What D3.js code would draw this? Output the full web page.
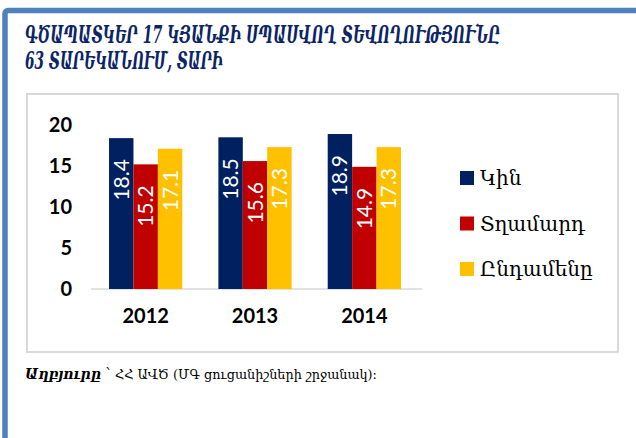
<!DOCTYPE html>
<html><head><meta charset="utf-8">
<script src="https://cdn.jsdelivr.net/npm/d3@7"></script>
<style>html,body{margin:0;padding:0;background:#fff;}</style>
</head><body>
<svg id="c" width="636" height="438"></svg>
<script>
const years = ["2012", "2013", "2014"];
const seriesNames = ["Կին", "Տղամարդ", "Ընդամենը"];
const women = [18.4, 18.5, 18.9];
const men = [15.2, 15.6, 14.9];
const total = [17.1, 17.3, 17.3];
const yTicks = [0, 5, 10, 15, 20];
const colors = ["#002060", "#c00000", "#ffc000"];
const titleLines = ["ԳԾԱՊԱՏԿԵՐ  17  ԿՅԱՆՔԻ ՍՊԱՍՎՈՂ ՏԵՎՈՂՈՒԹՅՈՒՆԸ", "63 ՏԱՐԵԿԱՆՈՒՄ, ՏԱՐԻ"];

const svg = d3.select("#c");
const seriesVals = [women, men, total];

// outer blue frame
svg.append("rect").attr("x", 5).attr("y", 10.5).attr("width", 800).attr("height", 600)
  .attr("rx", 3).attr("fill", "none").attr("stroke", "#4f81bd").attr("stroke-width", 5.5);

// title, horizontally condensed to the reference width
function fitText(txt, x, yb, size, width, attrs) {
  const t = svg.append("text").attr("x", 0).attr("y", 0).attr("font-size", size).text(txt);
  Object.entries(attrs).forEach(([k, v]) => t.attr(k, v));
  const w = t.node().getComputedTextLength();
  const sx = Math.min(1, width / w);
  t.attr("transform", `translate(${x},${yb}) scale(${sx},1)`);
  return t;
}
const titleAttrs = {"fill": "#0b2566", "font-family": "DejaVu Serif", "font-style": "italic", "font-weight": "bold"};
fitText(titleLines[0], 25, 43, 24, 475, titleAttrs);
fitText(titleLines[1], 25, 69, 24, 198, titleAttrs);

// inner chart box
svg.append("rect").attr("x", 27).attr("y", 94).attr("width", 591).attr("height", 258)
  .attr("fill", "#fff").attr("stroke", "#d9d9d9").attr("stroke-width", 2);

const y = d3.scaleLinear().domain([0, 20]).range([289, 125]);
const x0 = d3.scaleBand().domain(years).range([91, 419]).paddingInner(0.33).paddingOuter(0.165);
const x1 = d3.scaleBand().domain(seriesNames).range([0, x0.bandwidth()]);

// baseline
svg.append("line").attr("x1", 91).attr("x2", 422).attr("y1", y(0)).attr("y2", y(0))
  .attr("stroke", "#d9d9d9").attr("stroke-width", 1.5);

// y axis
const yAxis = svg.append("g").attr("transform", "translate(72,0)")
  .call(d3.axisLeft(y).tickValues(yTicks).tickSize(0).tickPadding(0));
yAxis.select(".domain").remove();
yAxis.selectAll("text").attr("font-family", "Lato").attr("font-weight", "bold")
  .attr("font-size", 20).attr("fill", "#000");

// x axis
const xAxis = svg.append("g").attr("transform", `translate(0,${y(0)})`)
  .call(d3.axisBottom(x0).tickSize(0).tickPadding(20));
xAxis.select(".domain").remove();
xAxis.selectAll("text").attr("font-family", "Lato").attr("font-weight", "bold")
  .attr("font-size", 20).attr("fill", "#000");

// bars
years.forEach((yr, i) => {
  const g = svg.append("g").attr("transform", `translate(${x0(yr)},0)`);
  seriesNames.forEach((s, j) => {
    const v = seriesVals[j][i];
    g.append("rect").attr("x", x1(s)).attr("y", y(v)).attr("width", x1.bandwidth())
      .attr("height", y(0) - y(v)).attr("fill", colors[j]);
    const cx = x1(s) + x1.bandwidth() / 2;
    const ty = y(v) + 21;
    g.append("text").attr("transform", `translate(${cx + 7.5},${ty}) rotate(-90)`)
      .attr("text-anchor", "end").attr("fill", "#fff")
      .attr("font-family", "Lato").attr("font-size", 21)
      .text(v.toFixed(1));
  });
});

// legend
seriesNames.forEach((s, j) => {
  const ly = 178 + j * 45.5;
  svg.append("rect").attr("x", 460).attr("y", ly - 7).attr("width", 14).attr("height", 14)
    .attr("fill", colors[j]);
  svg.append("text").attr("x", 480).attr("y", ly + 7).attr("fill", "#000")
    .attr("font-family", "DejaVu Serif").attr("font-size", 20).text(s);
});

// source
const src = svg.append("text").attr("x", 25).attr("y", 379).attr("fill", "#000")
  .attr("font-family", "DejaVu Serif").attr("font-size", 14);
src.append("tspan").attr("font-weight", "bold").attr("font-style", "italic").text("Աղբյուրը");
src.append("tspan").text(" ՝ ");
src.append("tspan").attr("font-size", 13).attr("textLength", 262).attr("lengthAdjust", "spacingAndGlyphs")
  .text("ՀՀ ԱՎԾ (ՄԳ ցուցանիշների շրջանակ):");
</script>
</body></html>
